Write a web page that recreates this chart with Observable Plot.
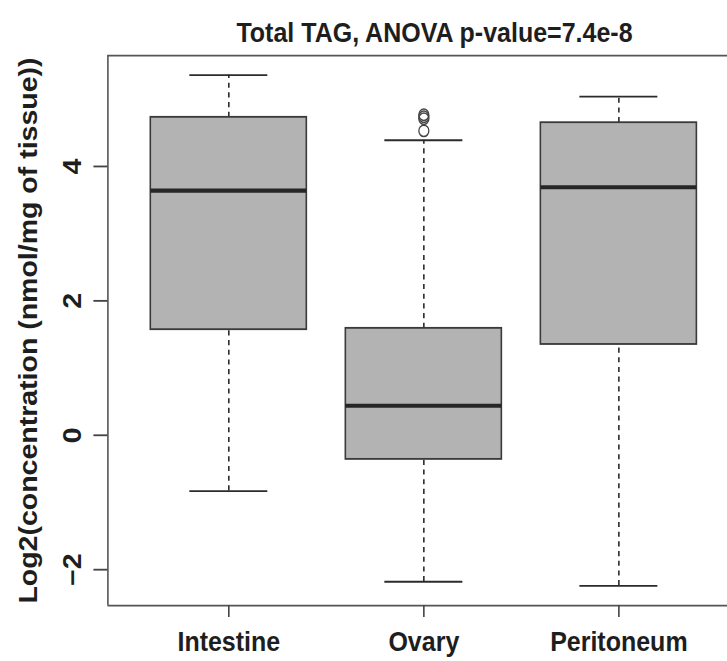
<!DOCTYPE html>
<html>
<head>
<meta charset="utf-8">
<script src="https://cdn.jsdelivr.net/npm/d3@7"></script>
<script src="https://cdn.jsdelivr.net/npm/@observablehq/plot@0.6"></script>
<style>
  html, body { margin: 0; padding: 0; background: #fff; }
  body { min-height: 661px; }
  #outer { width: 727px; height: 661px; overflow: visible; }
  #wrap { width: 727px; height: 580px; transform: scaleY(1.14); transform-origin: 0 0; font-family: "Liberation Sans", Arial, sans-serif; }
  #title { height: 44px; box-sizing: border-box; padding-top: 12px; padding-left: 142px; line-height: 32px; text-align: center; font-size: 25px; font-weight: bold; color: #1e1e1e; white-space: nowrap; }
  #chart svg { display: block; overflow: visible; }
</style>
</head>
<body>
<div id="outer">
<div id="wrap">
  <div id="title">Total TAG, ANOVA p-value=7.4e-8</div>
  <div id="chart"></div>
</div>
</div>
<script>
// Data
const categories = ["Intestine", "Ovary", "Peritoneum"];
const lowerWhisker = [-0.83, -2.18, -2.24];
const q1 = [1.57, -0.36, 1.35];
const median = [3.64, 0.44, 3.69];
const q3 = [4.73, 1.59, 4.65];
const upperWhisker = [5.36, 4.39, 5.04];
const outlierGroup = ["Ovary", "Ovary", "Ovary", "Ovary"];
const outlierValue = [4.77, 4.74, 4.71, 4.53];
const yTicks = [-2, 0, 2, 4];
const yDomain = [-2.534, 5.65];
const xDomain = [0.38, 3.557];
const yLabel = "Log2(concentration (nmol/mg of tissue))";

const boxes = categories.map((c, i) => ({
  cat: c, pos: i + 1,
  lo: lowerWhisker[i], q1: q1[i], med: median[i], q3: q3[i], hi: upperWhisker[i]
}));
const outliers = outlierValue.map((v, i) => ({pos: categories.indexOf(outlierGroup[i]) + 1, v}));

const ink = "#2b2b2b";
const font = "'Liberation Sans', Arial, sans-serif";

const plot = Plot.plot({
  width: 727,
  height: 536,
  marginTop: 4.25,
  marginBottom: 49.3,
  marginLeft: 107.4,
  marginRight: 0,
  style: {fontFamily: font, color: "#1e1e1e", background: "#fff"},
  x: {type: "linear", domain: xDomain, axis: null},
  y: {domain: yDomain, axis: null},
  marks: [
    // frame (R bty="o"; right edge lies outside the picture)
    Plot.ruleY([yDomain[1]], {stroke: "#555", strokeWidth: 1.6}),
    Plot.ruleY([yDomain[0]], {stroke: "#555", strokeWidth: 1.6}),
    Plot.ruleX([xDomain[0]], {stroke: "#555", strokeWidth: 1.6}),
    // whiskers
    Plot.ruleX(boxes, {x: "pos", y1: "q3", y2: "hi", stroke: ink, strokeWidth: 1.6, strokeDasharray: "4.5,4"}),
    Plot.ruleX(boxes, {x: "pos", y1: "lo", y2: "q1", stroke: ink, strokeWidth: 1.6, strokeDasharray: "4.5,4"}),
    Plot.ruleY(boxes, {y: "hi", x1: d => d.pos - 0.2, x2: d => d.pos + 0.2, stroke: ink, strokeWidth: 1.6}),
    Plot.ruleY(boxes, {y: "lo", x1: d => d.pos - 0.2, x2: d => d.pos + 0.2, stroke: ink, strokeWidth: 1.6}),
    // boxes
    Plot.rect(boxes, {x1: d => d.pos - 0.4, x2: d => d.pos + 0.4, y1: "q1", y2: "q3", fill: "#b3b3b3", stroke: "#3a3a3a", strokeWidth: 1.6}),
    Plot.ruleY(boxes, {y: "med", x1: d => d.pos - 0.4, x2: d => d.pos + 0.4, stroke: "#262626", strokeWidth: 3.6}),
    // outliers
    Plot.dot(outliers, {x: "pos", y: "v", r: 5, fill: "none", stroke: "#444", strokeWidth: 1.3}),
    // axes
    Plot.axisX({
      ticks: [1, 2, 3], tickFormat: d => categories[d - 1], tickSize: 10.5, tickPadding: 12,
      fontSize: 25, fontWeight: "bold", stroke: "#444", strokeWidth: 1.6, fill: "#1e1e1e", label: null
    }),
    Plot.axisY({
      ticks: yTicks, tickFormat: d => (d < 0 ? "\u2212" : "") + Math.abs(d), tickSize: 14, tickPadding: 13, tickRotate: -90,
      fontSize: 25, fontWeight: "bold", stroke: "#444", strokeWidth: 1.6, fill: "#1e1e1e",
      label: yLabel, labelAnchor: "center", labelOffset: 89, labelArrow: "none"
    })
  ]
});
document.getElementById("chart").appendChild(plot);
</script>
</body>
</html>
